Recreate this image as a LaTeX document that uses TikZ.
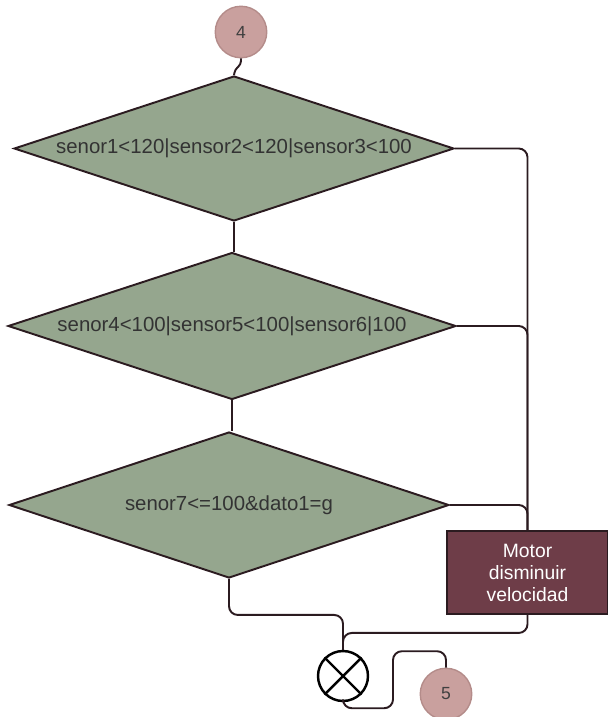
\documentclass[tikz,border=0pt]{standalone}
\usepackage{fontspec}
\setmainfont{Liberation Sans}
\usepackage{tikz}
\usetikzlibrary{shapes.geometric}

\definecolor{connpink}{HTML}{C9A09E}
\definecolor{connedge}{HTML}{B48C8A}
\definecolor{decgreen}{HTML}{95A68E}
\definecolor{actmaroon}{HTML}{6E3D48}
\definecolor{wire}{HTML}{2B1B20}

\tikzset{
  decision/.style={diamond, aspect=3.03, draw=wire, fill=decgreen, line width=1.1pt,
    inner sep=0pt, text=black!80, font=\fontsize{11.6}{13}\selectfont},
  onpage/.style={circle, draw=connedge, fill=connpink, line width=0.8pt,
    minimum size=1.03cm, inner sep=0pt, text=black!75, font=\fontsize{10}{12}\selectfont},
  action/.style={draw=wire, fill=actmaroon, line width=1.1pt, text=white, align=center,
    font=\fontsize{11}{12.5}\selectfont, minimum width=3.22cm, minimum height=1.66cm},
  merge/.style={circle, draw=black, line width=1.4pt, minimum size=1cm, inner sep=0pt},
  flow/.style={draw=wire, line width=1.1pt, rounded corners=5pt},
}

\begin{document}
\begin{tikzpicture}[x=0.02cm, y=-0.02cm]
\useasboundingbox (0,0) rectangle (608,717);

\node[onpage] (c4) at (241,32) {4};
\node[decision, minimum width=8.8cm, minimum height=2.9cm] (d1) at (234,148.5) {senor1<120|sensor2<120|sensor3<100};
\node[decision, minimum width=8.96cm, minimum height=2.94cm] (d2) at (232,326) {senor4<100|sensor5<100|sensor6|100};
\node[decision, minimum width=8.8cm, minimum height=2.92cm] (d3) at (229,505) {senor7<=100\&dato1=g};
\node[action] (act) at (527.5,572.5) {Motor\\disminuir\\velocidad};
\node[merge] (mrg) at (343,676) {};
\node[onpage] (c5) at (446,694) {5};

\draw[black, line width=1.4pt] (mrg.north west) -- (mrg.south east) (mrg.north east) -- (mrg.south west);

\draw[flow, rounded corners=2pt] (c4.south) -- ++(0,6) -- ++(-6,5) -- (d1.north);
\draw[flow] (d1.south) -- (d1.south |- d2.north);
\draw[flow] (d2.south) -- (d2.south |- d3.north);
\draw[flow] (d1.east) -| (act.north);
\draw[flow] (d2.east) -| (act.north);
\draw[flow] (d3.east) -| (act.north);
\draw[flow] (d3.south) -- ++(0,36) -| (mrg.north);
\draw[flow] (act.south) -- ++(0,18) -| (mrg.north);
\draw[flow] (mrg.south) -- ++(0,6) -- ++(50,0) -- ++(0,-57) -| (c5.north);
\end{tikzpicture}
\end{document}
